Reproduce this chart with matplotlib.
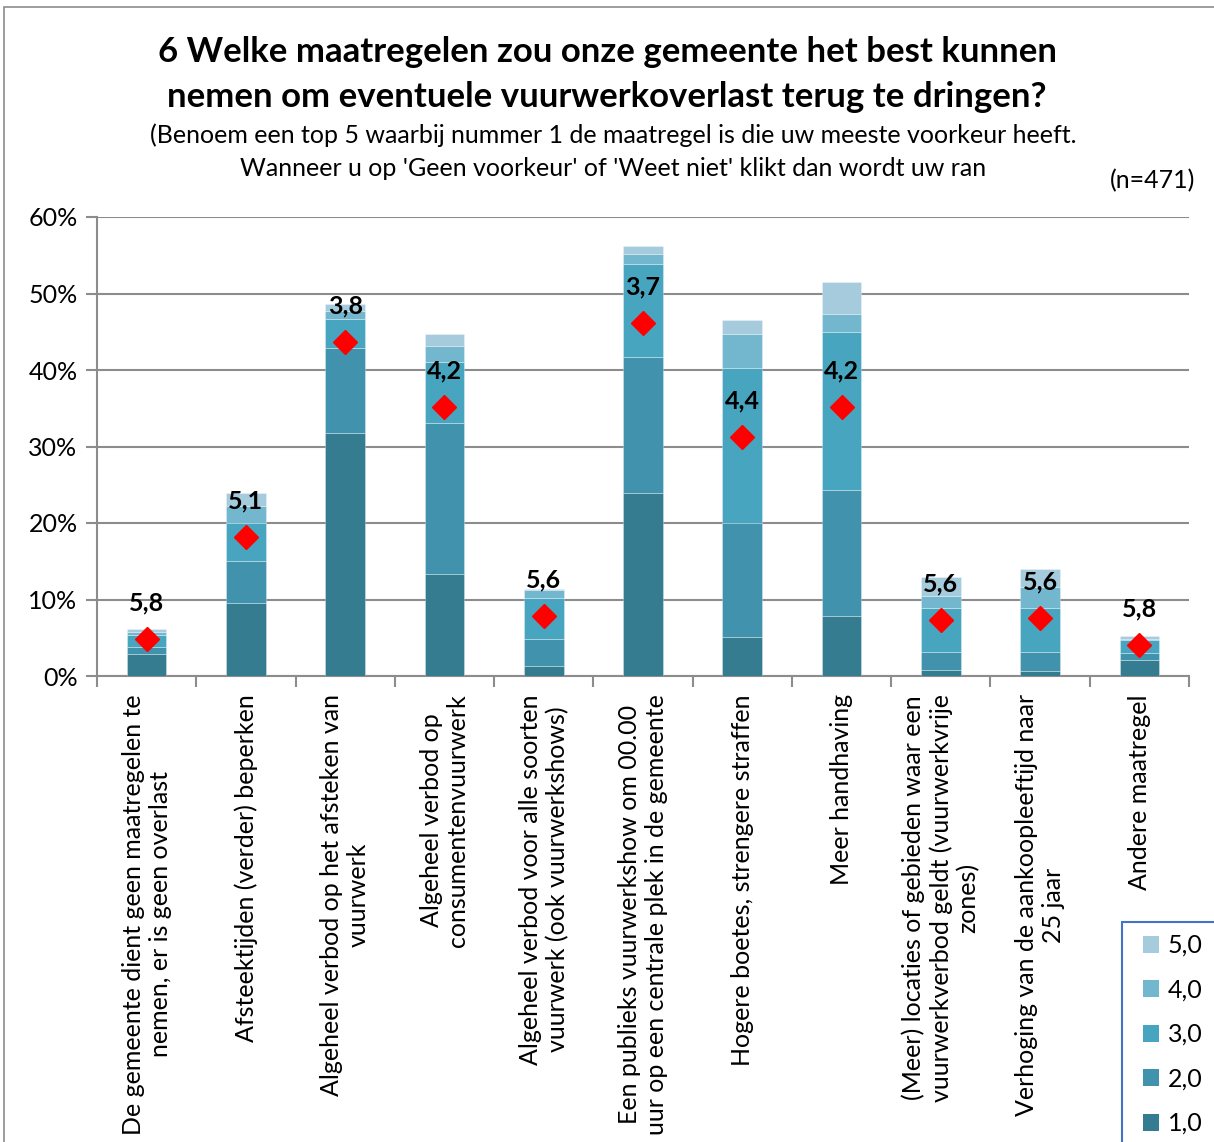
import matplotlib
matplotlib.use("Agg")
import matplotlib.pyplot as plt
from matplotlib.patches import Rectangle, Patch
import numpy as np

categories = [
    "De gemeente dient geen maatregelen te\nnemen, er is geen overlast",
    "Afsteektijden (verder) beperken",
    "Algeheel verbod op het afsteken van\nvuurwerk",
    "Algeheel verbod op\nconsumentenvuurwerk",
    "Algeheel verbod voor alle soorten\nvuurwerk (ook vuurwerkshows)",
    "Een publieks vuurwerkshow om 00.00\nuur op een centrale plek in de gemeente",
    "Hogere boetes, strengere straffen",
    "Meer handhaving",
    "(Meer) locaties of gebieden waar een\nvuurwerkverbod geldt (vuurwerkvrije\nzones)",
    "Verhoging van de aankoopleeftijd naar\n25 jaar",
    "Andere maatregel",
]
series_names = ["1,0", "2,0", "3,0", "4,0", "5,0"]
s1 = [2.9, 9.5, 31.8, 13.3, 1.3, 23.9, 5.1, 7.9, 0.8, 0.6, 2.1]
s2 = [0.9, 5.5, 11.1, 19.8, 3.5, 17.8, 14.9, 16.4, 2.3, 2.5, 0.9]
s3 = [1.6, 5.0, 3.8, 8.0, 5.4, 12.2, 20.2, 20.7, 5.8, 5.8, 1.7]
s4 = [0.3, 2.2, 1.0, 2.1, 1.1, 1.2, 4.5, 2.3, 1.6, 2.7, 0.2]
s5 = [0.4, 1.7, 0.9, 1.5, 0.1, 1.1, 1.9, 4.2, 2.4, 2.4, 0.3]
diamonds = [4.8, 18.2, 43.6, 35.1, 7.9, 46.2, 31.3, 35.2, 7.3, 7.6, 4.0]
avg_labels = ["5,8", "5,1", "3,8", "4,2", "5,6", "3,7", "4,4", "4,2", "5,6", "5,6", "5,8"]
yticks = [0, 10, 20, 30, 40, 50, 60]
ytick_labels = ["0%", "10%", "20%", "30%", "40%", "50%", "60%"]

colors = ["#357C91", "#4192AC", "#48A5C0", "#73B7CE", "#A5CBDC"]

plt.rcParams['font.family'] = ['Lato', 'DejaVu Sans']

W, H = 1214, 1142
fig = plt.figure(figsize=(W / 100, H / 100), dpi=100)

def fx(px):
    return px / W

def fy(py):
    return 1 - py / H

FS = 18

# figure border
fig.patches.append(Rectangle((fx(4), fy(1200)), fx(1300), (1200 - 7) / H,
                             transform=fig.transFigure, fill=False,
                             edgecolor="#8c8c8c", linewidth=1.2))

ax = fig.add_axes([fx(97), fy(676), fx(1189) - fx(97), fy(217) - fy(676)])

x = np.arange(len(categories))
bottom = np.zeros(len(categories))
handles = []
for vals, col, name in zip([s1, s2, s3, s4, s5], colors, series_names):
    ax.bar(x, vals, width=0.4, bottom=bottom, color=col,
           edgecolor=(1, 1, 1, 0.35), linewidth=0.6, label=name, zorder=3)
    bottom += np.array(vals)
    handles.append(Patch(facecolor=col, edgecolor='none', label=name))

ax.plot(x, diamonds, linestyle='none', marker='D', markersize=12,
        color='#FF0000', markeredgecolor='#FF0000', zorder=5)
for xi, yi, lab in zip(x, diamonds, avg_labels):
    ax.annotate(lab, (xi, yi), xytext=(0, 26), textcoords='offset points',
                ha='center', va='center', fontsize=FS, fontweight='bold',
                color='black', zorder=6)

ax.set_xlim(-0.5, len(categories) - 0.5)
ax.set_ylim(0, 60)
ax.set_yticks(yticks)
ax.set_yticklabels(ytick_labels, fontsize=FS)
ax.yaxis.grid(True, color="#8c8c8c", linewidth=1.5, zorder=0)
ax.set_axisbelow(True)

ax.set_xticks(x)
ax.set_xticklabels(categories, rotation=90, ha='center', va='top',
                   multialignment='center', fontsize=FS, linespacing=1.2)
ax.set_xticks(np.arange(len(categories) + 1) - 0.5, minor=True)
ax.tick_params(axis='x', which='major', length=0, pad=13)
ax.tick_params(axis='x', which='minor', length=8, color="#8c8c8c", width=1.5)
ax.tick_params(axis='y', length=8, color="#8c8c8c", width=1.5, pad=6)

for sp in ['top', 'right']:
    ax.spines[sp].set_visible(False)
for sp in ['left', 'bottom']:
    ax.spines[sp].set_color("#8c8c8c")
    ax.spines[sp].set_linewidth(1.5)

fig.text(0.5, fy(52), "6 Welke maatregelen zou onze gemeente het best kunnen",
         ha='center', va='center', fontsize=25, fontweight='bold')
fig.text(0.5, fy(97), "nemen om eventuele vuurwerkoverlast terug te dringen?",
         ha='center', va='center', fontsize=25, fontweight='bold')
fig.text(fx(613), fy(135), "(Benoem een top 5 waarbij nummer 1 de maatregel is die uw meeste voorkeur heeft.",
         ha='center', va='center', fontsize=FS)
fig.text(fx(613), fy(168), "Wanneer u op 'Geen voorkeur' of 'Weet niet' klikt dan wordt uw ran",
         ha='center', va='center', fontsize=FS)
fig.text(fx(1195), fy(181), "(n=471)", ha='right', va='center', fontsize=FS)

# legend
fig.patches.append(Rectangle((fx(1122), fy(1200)), fx(200), (1200 - 922) / H,
                             transform=fig.transFigure, facecolor='white',
                             edgecolor="#4472C4", linewidth=1.5, zorder=10))
leg = fig.legend(handles=handles[::-1], loc='upper left',
                 bbox_to_anchor=(fx(1133), fy(924)), frameon=False,
                 fontsize=FS, handlelength=0.65, handleheight=0.65,
                 handletextpad=0.35, labelspacing=0.86, borderaxespad=0)
leg.set_zorder(11)

fig.savefig("out.png", dpi=100)
